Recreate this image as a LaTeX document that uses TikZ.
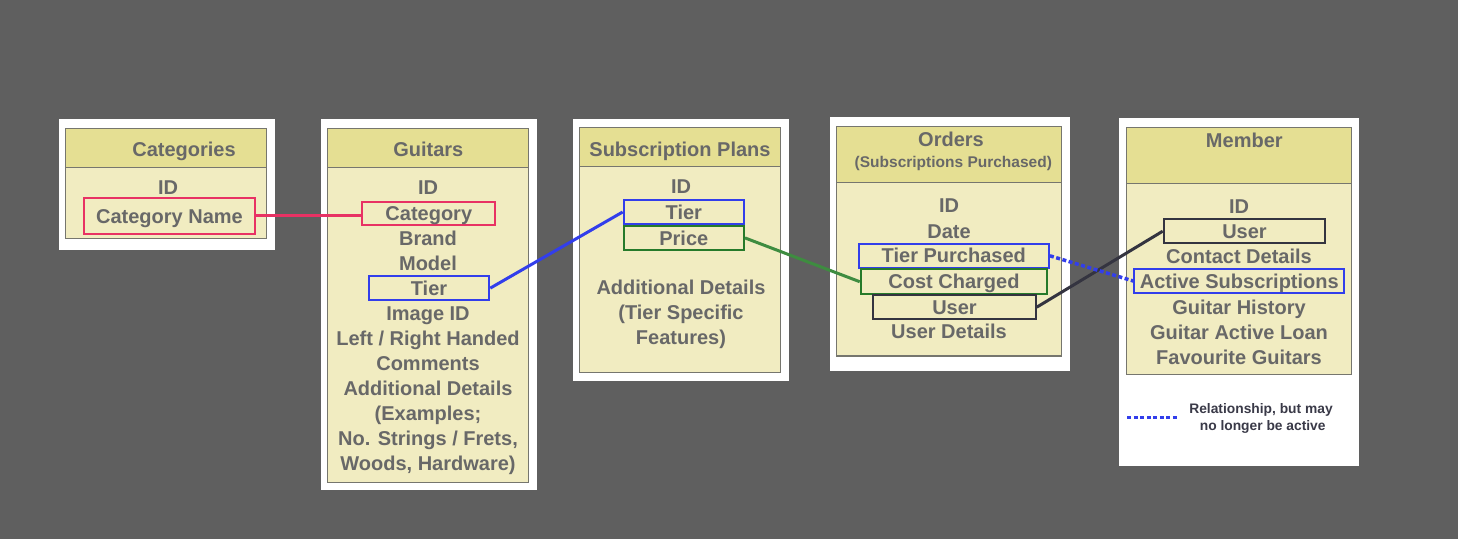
\documentclass[tikz,border=0pt]{standalone}
\usepackage{fontspec}
\setmainfont{Liberation Sans}
\usepackage{tikz}

\definecolor{bggray}{RGB}{95,95,95}
\definecolor{headfill}{RGB}{229,223,147}
\definecolor{bodyfill}{RGB}{241,236,193}
\definecolor{tableline}{RGB}{118,118,110}
\definecolor{txtgray}{RGB}{104,104,104}
\definecolor{legendtxt}{RGB}{58,58,72}
\definecolor{pinkline}{RGB}{232,50,100}
\definecolor{blueline}{RGB}{50,62,235}
\definecolor{greenbox}{RGB}{38,122,42}
\definecolor{greenline}{RGB}{62,140,64}
\definecolor{darkline}{RGB}{52,52,64}

\tikzset{
  field/.style={font=\fontsize{20}{24}\selectfont\bfseries, text=txtgray,
    text height=14.3pt, text depth=0pt, inner sep=0pt},
  subtitle/.style={font=\fontsize{15.5}{18}\selectfont\bfseries, text=txtgray,
    text height=11pt, text depth=0pt, inner sep=0pt},
  keybox/.style={field, draw, line width=2pt, minimum height=24pt},
  legendtext/.style={font=\fontsize{13.8}{16}\selectfont\bfseries, text=legendtxt, inner sep=0pt},
  table/.style={fill=bodyfill, draw=tableline, line width=1.3pt},
  header/.style={fill=headfill, draw=tableline, line width=1.3pt},
  dotline/.style={blueline, line width=3.5pt, dash pattern=on 4pt off 2.5pt}
}

\begin{document}
\begin{tikzpicture}[x=1pt,y=-1pt]
  \fill [bggray] (0,0) rectangle (1458,539);
  \useasboundingbox (0,0) rectangle (1458,539);

  % white cards
  \fill [white] (58.5,119) rectangle (274.5,249.5);
  \fill [white] (320.7,119) rectangle (537.3,490);
  \fill [white] (573,119) rectangle (789,380.5);
  \fill [white] (829.5,116.7) rectangle (1069.5,371);
  \fill [white] (1119.3,117.7) rectangle (1359.3,466);

  % tables
  \draw [table] (65.7,128.3) rectangle (266.7,238.3);
  \draw [header] (65.7,128.3) rectangle (266.7,167.3);
  \draw [table] (327.7,128.3) rectangle (528.7,482.7);
  \draw [header] (327.7,128.3) rectangle (528.7,167.3);
  \draw [table] (579.3,127.3) rectangle (780.7,372.3);
  \draw [header] (579.3,127.3) rectangle (780.7,166.7);
  \draw [table] (836.7,126.7) rectangle (1061.7,356);
  \draw [header] (836.7,126.7) rectangle (1061.7,182.3);
  \draw [table] (1126.7,127.3) rectangle (1351.7,374.3);
  \draw [header] (1126.7,127.3) rectangle (1351.7,183.3);

  % Categories
  \node [field] (cat-title) at (184,149.7) {Categories};
  \node [field] (cat-id) at (168,187.7) {ID};
  \node [keybox, draw=pinkline, minimum width=171.6pt, minimum height=36.3pt] (cat-name) at (169.5,215.9) {Category Name};

  % Guitars
  \node [field] (gtr-title) at (428.3,149.7) {Guitars};
  \node [field] (gtr-id) at (428,187.7) {ID};
  \node [keybox, draw=pinkline, minimum width=133pt, minimum height=23.3pt] (gtr-cat) at (428.8,213.3) {Category};
  \node [field] (gtr-brand) at (428,238.3) {Brand};
  \node [field] (gtr-model) at (428,263.3) {Model};
  \node [keybox, draw=blueline, minimum width=120.6pt] (gtr-tier) at (429,288.1) {Tier};
  \node [field] (gtr-img) at (428,313.3) {Image ID};
  \node [field] (gtr-hand) at (428,338.3) {Left / Right Handed};
  \node [field] (gtr-com) at (428,363.3) {Comments};
  \node [field] (gtr-add) at (428,388.3) {Additional Details};
  \node [field] (gtr-ex) at (428,413.3) {(Examples;};
  \node [field] (gtr-str) at (428,438.3) {No. Strings / Frets,};
  \node [field] (gtr-wood) at (428,463.3) {Woods, Hardware)};

  % Subscription Plans
  \node [field] (sub-title) at (680,149.3) {Subscription Plans};
  \node [field] (sub-id) at (681,186.7) {ID};
  \node [keybox, draw=blueline, minimum width=120.3pt, minimum height=24.6pt] (sub-tier) at (683.8,212) {Tier};
  \node [keybox, draw=greenbox, minimum width=120.3pt, minimum height=24.3pt] (sub-price) at (683.8,237.9) {Price};
  \node [field] (sub-add) at (681,287.3) {Additional Details};
  \node [field] (sub-spec) at (681,312.3) {(Tier Specific};
  \node [field] (sub-feat) at (681,337.3) {Features)};

  % Orders
  \node [field] (ord-title) at (951,139) {Orders};
  \node [subtitle] (ord-sub) at (953.3,161.7) {(Subscriptions Purchased)};
  \node [field] (ord-id) at (949,205.7) {ID};
  \node [field] (ord-date) at (949,231) {Date};
  \node [keybox, draw=blueline, minimum width=190.3pt, minimum height=24.3pt] (ord-tier) at (953.8,255.8) {Tier Purchased};
  \node [keybox, draw=greenbox, minimum width=186.6pt, minimum height=24.7pt] (ord-cost) at (954,281.7) {Cost Charged};
  \node [keybox, draw=darkline, minimum width=162.4pt, minimum height=23.7pt] (ord-user) at (954.5,307.2) {User};
  \node [field] (ord-det) at (949,331) {User Details};

  % Member
  \node [field] (mem-title) at (1244.3,140) {Member};
  \node [field] (mem-id) at (1239,206.7) {ID};
  \node [keybox, draw=darkline, minimum width=161.6pt, minimum height=24.3pt] (mem-user) at (1244.5,231.2) {User};
  \node [field] (mem-contact) at (1239,256.7) {Contact Details};
  \node [keybox, draw=blueline, minimum width=210pt, minimum height=24.6pt] (mem-active) at (1239.3,281) {Active Subscriptions};
  \node [field] (mem-hist) at (1239,307.3) {Guitar History};
  \node [field] (mem-loan) at (1239,332.3) {Guitar Active Loan};
  \node [field] (mem-fav) at (1239,357.3) {Favourite Guitars};

  % relationships
  \draw [pinkline, line width=3pt] (cat-name.east) -- (cat-name.east -| gtr-cat.west);
  \draw [blueline, line width=3pt] (gtr-tier.east) -- (sub-tier.west);
  \draw [greenline, line width=3pt] (sub-price.east) -- (ord-cost.west);
  \draw [darkline, line width=3pt] (ord-user.east) -- (mem-user.west);
  \draw [dotline] (ord-tier.east) -- (mem-active.west);

  % legend
  \coordinate (leg-a) at (1127.3,417.3);
  \coordinate (leg-b) at (1178.7,417.3);
  \draw [dotline] (leg-a) -- (leg-b);
  \node [legendtext] (leg-1) at (1261,410) {Relationship, but may};
  \node [legendtext] (leg-2) at (1262.7,427.3) {no longer be active};
\end{tikzpicture}
\end{document}
